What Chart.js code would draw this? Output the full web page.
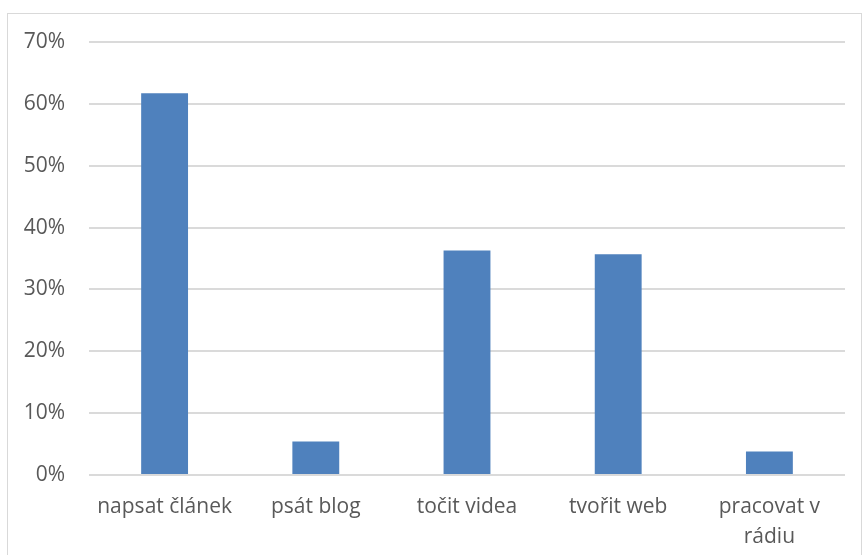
<!DOCTYPE html>
<html>
<head>
<meta charset="utf-8">
<script src="https://cdn.jsdelivr.net/npm/chart.js@4"></script>
<style>
  html, body { margin: 0; padding: 0; background: #fff; }
  #frame {
    position: absolute; left: 7px; top: 13px;
    width: 853px; height: 600px;
    border: 1px solid #d9d9d9;
  }
  #wrap { position: absolute; left: 0; top: 0; width: 864px; height: 555px; }
</style>
</head>
<body>
<div id="frame"></div>
<div id="wrap"><canvas id="chart"></canvas></div>
<script>
const categories = ['napsat článek', 'psát blog', 'točit videa', 'tvořit web', ['pracovat v', 'rádiu']];
const shares = [61.7, 5.4, 36.3, 35.7, 3.8];
const yTicks = [0, 10, 20, 30, 40, 50, 60, 70];

const textColor = '#595959';
const font = { family: '"Open Sans", sans-serif', size: 21, lineHeight: '30px' };

new Chart(document.getElementById('chart'), {
    type: 'bar',
    data: {
        labels: categories,
        datasets: [{
            data: shares,
            backgroundColor: '#4f81bd',
            borderWidth: 0,
            barPercentage: 0.31,
            categoryPercentage: 1
        }]
    },
    options: {
        responsive: true,
        maintainAspectRatio: false,
        animation: false,
        layout: { padding: { left: 0, top: 42, right: 19, bottom: 0 } },
        plugins: { legend: { display: false }, tooltip: { enabled: false } },
        scales: {
            x: {
                grid: { display: false },
                border: { display: false },
                ticks: { color: textColor, font: font, padding: 9, maxRotation: 0 },
                afterFit: (s) => { s.height = 80; }
            },
            y: {
                min: 0,
                max: 70,
                afterBuildTicks: (s) => { s.ticks = yTicks.map(v => ({ value: v })); },
                grid: { color: '#dadada', lineWidth: 2, drawTicks: false },
                border: { display: false },
                ticks: { color: textColor, font: font, padding: 24, callback: (v) => v + '%' },
                afterFit: (s) => { s.width = 89; }
            }
        }
    }
});
</script>
</body>
</html>
